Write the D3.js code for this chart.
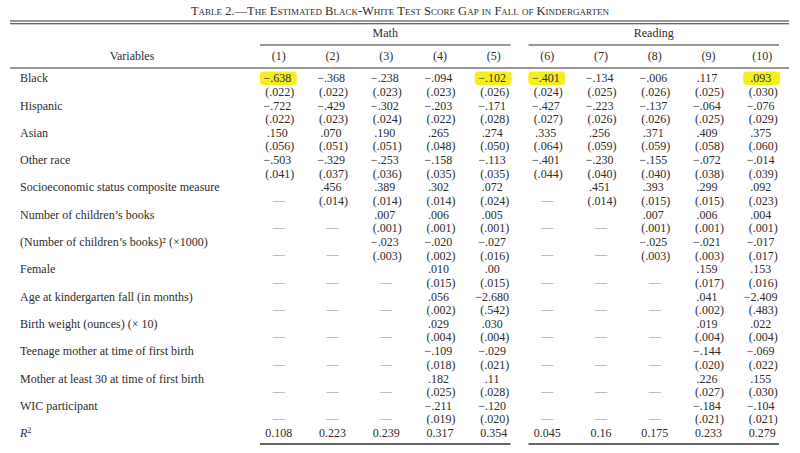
<!DOCTYPE html>
<html><head><meta charset="utf-8">
<script src="https://cdn.jsdelivr.net/npm/d3@7"></script>
<style>
body{margin:0;background:#fff;}
svg text{font-family:"Liberation Serif","Times New Roman",serif;fill:#2d2d2d;}
</style></head>
<body><svg id="c" width="800" height="453"></svg>
<script>
const title = "Table 2.—The Estimated Black-White Test Score Gap in Fall of Kindergarten";
const groups = ["Math", "Reading"];
const columns = ["(1)","(2)","(3)","(4)","(5)","(6)","(7)","(8)","(9)","(10)"];
const variables = ["Black","Hispanic","Asian","Other race","Socioeconomic status composite measure",
  "Number of children’s books","(Number of children’s books)² (×1000)","Female",
  "Age at kindergarten fall (in months)","Birth weight (ounces) (× 10)",
  "Teenage mother at time of first birth","Mother at least 30 at time of first birth","WIC participant"];
// coefficients (as printed), null = variable not included
const coefs = [
  ["−.638","−.368","−.238","−.094","−.102","−.401","−.134","−.006",".117",".093"],
  ["−.722","−.429","−.302","−.203","−.171","−.427","−.223","−.137","−.064","−.076"],
  [".150",".070",".190",".265",".274",".335",".256",".371",".409",".375"],
  ["−.503","−.329","−.253","−.158","−.113","−.401","−.230","−.155","−.072","−.014"],
  [null,".456",".389",".302",".072",null,".451",".393",".299",".092"],
  [null,null,".007",".006",".005",null,null,".007",".006",".004"],
  [null,null,"−.023","−.020","−.027",null,null,"−.025","−.021","−.017"],
  [null,null,null,".010",".00",null,null,null,".159",".153"],
  [null,null,null,".056","−2.680",null,null,null,".041","−2.409"],
  [null,null,null,".029",".030",null,null,null,".019",".022"],
  [null,null,null,"−.109","−.029",null,null,null,"−.144","−.069"],
  [null,null,null,".182",".11",null,null,null,".226",".155"],
  [null,null,null,"−.211","−.120",null,null,null,"−.184","−.104"]
];
// standard errors
const ses = [
  [".022",".022",".023",".023",".026",".024",".025",".026",".025",".030"],
  [".022",".023",".024",".022",".028",".027",".026",".026",".025",".029"],
  [".056",".051",".051",".048",".050",".064",".059",".059",".058",".060"],
  [".041",".037",".036",".035",".035",".044",".040",".040",".038",".039"],
  [null,".014",".014",".014",".024",null,".014",".015",".015",".023"],
  [null,null,".001",".001",".001",null,null,".001",".001",".001"],
  [null,null,".003",".002",".016",null,null,".003",".003",".017"],
  [null,null,null,".015",".015",null,null,null,".017",".016"],
  [null,null,null,".002",".542",null,null,null,".002",".483"],
  [null,null,null,".004",".004",null,null,null,".004",".004"],
  [null,null,null,".018",".021",null,null,null,".020",".022"],
  [null,null,null,".025",".028",null,null,null,".027",".030"],
  [null,null,null,".019",".020",null,null,null,".021",".021"]
];
const r2 = ["0.108","0.223","0.239","0.317","0.354","0.045","0.16","0.175","0.233","0.279"];
// highlighted cells: [variable index, column index]
const highlights = [[0,0],[0,4],[0,5],[0,9]];

const svg = d3.select("#c");
const x = d3.scaleBand().domain(d3.range(columns.length)).range([252, 789]);
const cx = i => x(i) + x.bandwidth()/2;
const y = d3.scaleLinear().domain([0, 13]).range([78, 432.9]);
const seOff = 13.5, base = 4.2;

// title
svg.append("text").attr("x",400).attr("y",15).attr("text-anchor","middle")
  .style("font-variant","small-caps").style("font-size","12.5px").text(title);
// rules
const line = (x1,x2,yy,w) => svg.append("line").attr("x1",x1).attr("x2",x2).attr("y1",yy).attr("y2",yy)
  .attr("stroke","#333").attr("stroke-width",w||1);
line(10,789,21,1.1); line(10,789,23.8,1.1);
line(10,789,68,1);
const grpCols = [[0,4],[5,9]];
grpCols.forEach((g,k)=>{
  const x1 = x(g[0]) + 8, x2 = x(g[1]) + x.bandwidth() - 10;
  line(x1,x2,45,1.1);
  line(x1,x2,444,1.3);
  svg.append("text").attr("x",(x1+x2)/2).attr("y",37).attr("text-anchor","middle")
    .style("font-size","12px").text(groups[k]);
});
svg.append("text").attr("x",132).attr("y",60).attr("text-anchor","middle").style("font-size","12px").text("Variables");
svg.selectAll("text.colh").data(columns).join("text").attr("class","colh")
  .attr("x",(d,i)=>cx(i)).attr("y",60).attr("text-anchor","middle").style("font-size","12px").text(d=>d);

// highlights
svg.selectAll("rect.hl").data(highlights).join("rect").attr("class","hl")
  .attr("x",d=>cx(d[1])-19).attr("y",d=>y(d[0])-6.5).attr("width",37).attr("height",13.5)
  .attr("rx",4).attr("fill","#f6ef1f");

// labels
svg.selectAll("text.lab").data(variables).join("text").attr("class","lab")
  .attr("x",20).attr("y",(d,i)=>y(i)+base).style("font-size","12px").text(d=>d);

// coefficients
variables.forEach((v,r)=>{
  coefs[r].forEach((c,i)=>{
    if(c!==null) svg.append("text").attr("x",cx(i)-1.5).attr("y",y(r)+base).attr("text-anchor","middle")
      .style("font-size","12px").text(c);
    const s = ses[r][i];
    if(s!==null) svg.append("text").attr("x",cx(i)+1).attr("y",y(r)+seOff+base).attr("text-anchor","middle")
      .style("font-size","12px").text("("+s+")");
    else svg.append("text").attr("x",cx(i)).attr("y",y(r)+seOff+base-1.2).attr("text-anchor","middle")
      .style("font-size","12px").style("fill","#8a8a8a").text("—");
  });
});
// R2 row
const rl = svg.append("text").attr("x",20).attr("y",y(13)+base).style("font-size","12px");
rl.append("tspan").style("font-style","italic").text("R");
rl.append("tspan").attr("dy",-4).style("font-size","8px").text("2");
svg.selectAll("text.r2").data(r2).join("text").attr("class","r2")
  .attr("x",(d,i)=>cx(i)).attr("y",y(13)+base).attr("text-anchor","middle").style("font-size","12px").text(d=>d);
</script></body></html>
